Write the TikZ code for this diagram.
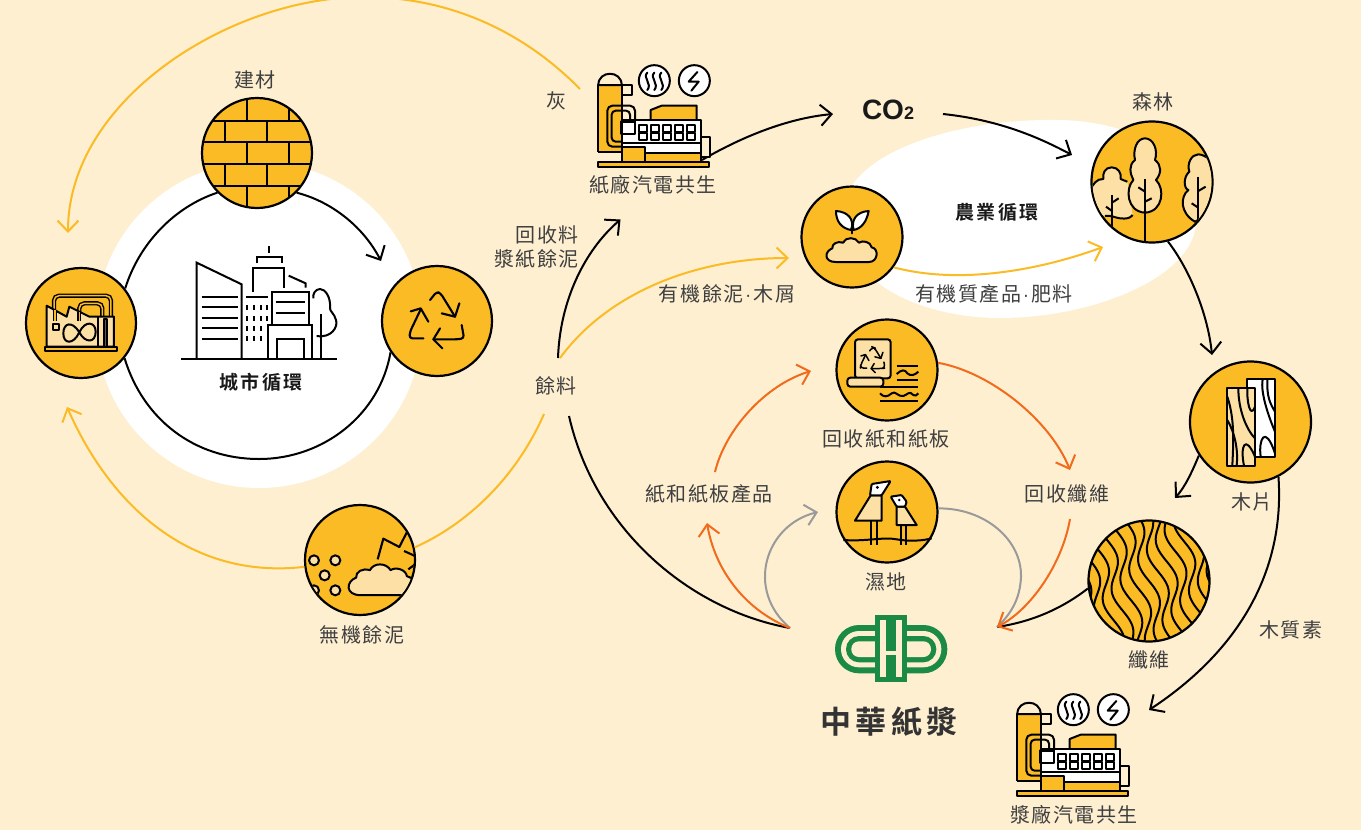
\documentclass[tikz,border=0pt]{standalone}
\usepackage{fontspec}
\usetikzlibrary{arrows.meta,shapes.geometric}
\newfontfamily\cjk[LetterSpace=8]{Noto Sans CJK TC}
\newfontfamily\cjkb[LetterSpace=14]{Noto Sans CJK TC Bold}
\newfontfamily\latinb{Liberation Sans Bold}
\newfontfamily\latinr{Liberation Sans}
\newcommand\midd{\hspace{1.5pt}{\latinr\fontsize{19}{22}\selectfont ·}\hspace{2pt}}
\definecolor{bgc}{HTML}{FEEFD1}
\definecolor{gold}{HTML}{FABB25}
\definecolor{creamy}{HTML}{FCE0A6}
\definecolor{orangeline}{HTML}{F26A1B}
\definecolor{grayline}{HTML}{9A9A9A}
\definecolor{txt}{HTML}{3F3F3F}
\definecolor{logog}{HTML}{1B8A45}
\tikzset{
  disc/.style={circle,draw=black,line width=2.2pt,fill=gold,inner sep=0pt},
  zs/.style={x=0.33333pt,y=-0.33333pt},
  ink/.style={line width=2pt,draw=black,line join=round},
  lab/.style={font=\cjk\fontsize{20}{24}\selectfont,text=txt,inner sep=0pt},
  blab/.style={font=\cjkb\fontsize{19}{24}\selectfont,text=black!90,inner sep=0pt},
  conn/.style={line width=2pt,draw=black},
  ycon/.style={line width=2pt,draw=gold},
  ocon/.style={line width=2pt,draw=orangeline},
  gcon/.style={line width=2pt,draw=grayline},
  arr/.style={-{Straight Barb[length=11pt,width=21pt]}},
}
\newcommand\recyclemark{%
  \draw[rounded corners=3pt] (-20,-50)--(0,-75)--(12,-70)--(55,0);
  \draw (15,-10)--(55,0)--(68,-40);
  \draw[rounded corners=3pt] (75,25)--(82,65)--(60,68)--(-10,68);
  \draw (10,35)--(-10,68)--(17,95);
  \draw[rounded corners=3pt] (-40,65)--(-82,65)--(-80,45)--(-48,-22);
  \draw (-78,-16)--(-48,-25)--(-25,15);
}
\newcommand\cogenicon{%
  \fill[gold] (25,75) rectangle (95,275);
  \draw[ink] (25,275)--(25,75)--(95,75)--(95,305);
  \draw[ink,fill=bgc] (25,75) .. controls (25,30) and (95,30) .. (95,75) -- cycle;
  \draw[ink] (25,275)--(95,275);
  \draw[ink,fill=bgc] (95,75) rectangle (125,105);
  \draw[ink,rounded corners=5pt] (135,180)--(135,137)--(52,137)--(52,260)--(95,260);
  \draw[ink,rounded corners=4pt] (120,180)--(120,152)--(65,152)--(65,245)--(95,245);
  \draw[ink,fill=gold] (182,180)--(182,150)--(215,137)--(320,137)--(320,180)--cycle;
  \draw[ink,fill=white] (95,180) rectangle (333,305);
  \draw[ink,fill=bgc] (333,232) rectangle (360,290);
  \draw[ink,fill=white,line width=2.4pt] (95,185) rectangle (135,222);
  \foreach \i in {0,...,4} {
    \draw[ink,line width=1.7pt] ({148+36*\i},195) rectangle ({170+36*\i},215);
    \draw[ink,line width=1.7pt] ({148+36*\i},218) rectangle ({170+36*\i},240);
  }
  \draw[ink] (95,250)--(333,250);
  \draw[ink,fill=gold] (165,278) rectangle (333,305);
  \draw[ink,fill=gold] (95,262) rectangle (165,305);
  \draw[ink,fill=gold] (25,305) rectangle (358,321);
  \draw[ink,fill=white] (193,62) circle[radius=15.5pt];
  \draw[ink,fill=white] (313,62) circle[radius=15.5pt];
  \foreach \x in {172,193,214} {
    \draw[ink,line cap=round] (\x,38) .. controls (\x-16,52) and (\x+16,72) .. (\x,90);
  }
  \draw[ink,line cap=round] (322,36)--(296,65)--(326,65)--(304,92);
}
\newcommand\cloudmark[1]{%
  \draw[ink,fill=creamy,#1] (-50,36) -- (50,36) .. controls (78,36) and (80,-5) .. (58,-8)
    .. controls (55,-25) and (30,-30) .. (20,-22) .. controls (10,-40) and (-20,-40) .. (-28,-22)
    .. controls (-45,-28) and (-62,-18) .. (-60,-5) .. controls (-85,5) and (-85,36) .. (-50,36) -- cycle;
}
\begin{document}
\begin{tikzpicture}[x=1pt,y=-1pt]
\path[clip] (0,0) rectangle (1361,830);
\useasboundingbox (0,0) rectangle (1361,830);
\fill[bgc] (0,0) rectangle (1361,830);

% white grounds
\node[circle,fill=white,minimum size=326pt,inner sep=0pt] (cityground) at (259,325) {};
\fill[white] (845,200) .. controls (860,150) and (960,118) .. (1060,120) .. controls (1150,122) and (1205,170) .. (1195,230) .. controls (1185,280) and (1090,318) .. (1000,318) .. controls (920,318) and (830,280) .. (845,200) -- cycle;

% discs
\node[disc,minimum size=110pt] (brick) at (257,153) {};
\node[disc,minimum size=110pt] (recycle) at (437,321) {};
\node[disc,minimum size=110pt] (factory) at (81,323) {};
\node[disc,minimum size=110pt] (sludge) at (360,560) {};
\node[disc,minimum size=101pt] (plant) at (852,237) {};
\node[disc,minimum size=121pt] (forest) at (1152,182) {};
\node[disc,minimum size=121pt] (wood) at (1250.5,422) {};
\node[disc,minimum size=121pt] (fiber) at (1149,581) {};
\node[disc,minimum size=101pt] (paper) at (887,370) {};
\node[disc,minimum size=101pt] (wetland) at (887,512) {};

% labels
\node[lab] (lbrick) at (255,80) {建材};
\node[lab] (lash) at (556,101) {灰};
\node[lab,anchor=east] (lrec) at (579,235) {回收料};
\node[lab,anchor=east] (lpulp) at (579,259) {漿紙餘泥};
\node[lab] (lfeed) at (556,386) {餘料};
\node[lab] (lorg) at (727,294) {有機餘泥\midd 木屑};
\node[lab] (lfert) at (994,294) {有機質產品\midd 肥料};
\node[blab] (lfarm) at (997,212) {農業循環};
\node[blab] (lcity) at (261,382) {城市循環};
\node[lab] (lforest) at (1153,102) {森林};
\node[lab] (lpaper) at (886,439) {回收紙和紙板};
\node[lab] (lprod) at (709,494) {紙和紙板產品};
\node[lab] (lfib) at (1067,494) {回收纖維};
\node[lab] (lwet) at (886,582) {濕地};
\node[lab] (lchip) at (1252,502) {木片};
\node[lab] (llig) at (1291,630) {木質素};
\node[lab] (lfiber) at (1149,660) {纖維};
\node[lab] (lsludge) at (362,635) {無機餘泥};
\node[lab] (lcogA) at (653,185) {紙廠汽電共生};
\node[lab] (lcogB) at (1074,815) {漿廠汽電共生};
\node[inner sep=0pt,font=\latinb\fontsize{28}{30}\selectfont,text=black!90] (co2) at (888,110) {CO{\fontsize{18}{18}\selectfont 2}};
\node[inner sep=0pt,font=\cjkb\fontsize{31}{34}\selectfont,text=black!80] (lname) at (889,722) {中華紙漿};

% free connector ends
\coordinate (ashS) at (580,89);
\coordinate (ashM) at (364,-3);
\coordinate (ashT) at (68,233);
\coordinate (cityT) at (381,261);
\coordinate (cityB) at (259,459);
\coordinate (sludgeT) at (67,407);
\coordinate (feedA) at (544,414);
\coordinate (feedB) at (558,358);
\coordinate (feedC) at (560,358);
\coordinate (feedD) at (569,416);
\coordinate (cogT) at (620.5,219.5);
\coordinate (plantT) at (789,258);
\coordinate (cogS) at (702,160);
\coordinate (co2T) at (833,114);
\coordinate (co2S) at (943,114);
\coordinate (forestT) at (1072,155);
\coordinate (forestY) at (1103,247);
\coordinate (woodT) at (1212,355);
\coordinate (fiberT) at (1175,498);
\coordinate (cogBT) at (1149,710);
\coordinate (logoR) at (997,627);
\coordinate (logoL) at (790,628);
\coordinate (fibS) at (1070,519);
\coordinate (fibT) at (1070,470);
\coordinate (prodS) at (715,472);
\coordinate (paperT) at (811,371);
\coordinate (prodT) at (707,523);
\coordinate (wetT) at (818,512);

% connectors
\draw[ycon,arr] (ashS) .. controls (520,28) and (445,-3) .. (ashM) .. controls (230,-3) and (68,100) .. (ashT);
\draw[conn,arr] (brick.-45) .. controls (333,202) and (364,228) .. (cityT);
\draw[conn] (recycle.214) .. controls (380,414) and (324,459) .. (cityB) .. controls (194,459) and (143,419) .. (factory.-39);
\draw[conn] (factory.38) .. controls (139,244) and (174,207) .. (brick.-135);
\draw[ycon,arr] (sludge.187) .. controls (190,580) and (110,505) .. (sludgeT);
\draw[ycon] (feedA) .. controls (515,480) and (465,525) .. (sludge.13);
\draw[conn,arr] (feedB) .. controls (560,300) and (585,250) .. (cogT);
\draw[ycon,arr] (feedC) .. controls (610,290) and (700,258) .. (plantT);
\draw[conn,arr] (cogS) .. controls (745,135) and (790,118) .. (co2T);
\draw[conn,arr] (co2S) .. controls (1000,120) and (1040,138) .. (forestT);
\draw[ycon,arr] (plant.-36) .. controls (960,285) and (1040,270) .. (forestY);
\draw[conn,arr] (forest.-75) .. controls (1190,270) and (1208,315) .. (woodT);
\draw[conn,arr] (wood.-147) .. controls (1192,472) and (1185,487) .. (fiberT);
\draw[conn,arr] (wood.-63) .. controls (1285,570) and (1240,650) .. (cogBT);
\draw[conn] (feedD) .. controls (595,530) and (690,610) .. (logoL);
\draw[conn] (fiber.187) .. controls (1060,610) and (1030,622) .. (logoR);
\draw[gcon] (wetland.4) .. controls (985,508) and (1022,540) .. (1021,577) .. controls (1020,600) and (1010,615) .. (logoR);
\draw[gcon,arr] (logoL) .. controls (745,590) and (765,525) .. (wetT);
\draw[ocon,arr] (fibS) .. controls (1062,565) and (1030,610) .. (logoR);
\draw[ocon,arr] (paper.8) .. controls (990,372) and (1050,420) .. (fibT);
\draw[ocon,arr] (prodS) .. controls (725,430) and (765,385) .. (paperT);
\draw[ocon,arr] (logoL) .. controls (745,610) and (715,570) .. (prodT);

% city icon
\begin{scope}[shift={(175,240)},zs,line cap=butt]
  \tikzset{every path/.style={line width=2pt,draw=black}}
  \draw (18,358)--(487,358);
  \draw (65,358)--(65,68)--(200,133)--(200,358);
  \foreach \y in {171,202,233,265,296} \draw (80,\y)--(188,\y);
  \draw (213,171)--(280,171);
  \foreach \x in {215,237,257,277} \foreach \y in {195,228} \draw (\x,\y)--(\x,\y+15);
  \foreach \x in {215,237,257} \foreach \y in {258,288} \draw (\x,\y)--(\x,\y+15);
  \draw (233,157)--(233,84)--(328,84)--(328,145);
  \draw (247,70)--(247,52)--(320,52)--(320,70);
  \draw (283,18)--(283,40);
  \draw (341,107)--(392,130)--(392,143);
  \draw (292,255)--(292,157)--(401,157)--(401,255);
  \draw (302,187)--(391,187);
  \draw (302,218)--(391,218);
  \draw (280,358)--(280,255)--(412,255)--(412,358);
  \draw (306,358)--(306,297)--(386,297)--(386,358);
  \draw (437,358)--(437,222);
  \draw (425,288) .. controls (470,295) and (490,260) .. (483,240) .. controls (478,220) and (465,215) .. (465,205) .. controls (468,170) and (450,147) .. (435,147) .. controls (420,147) and (412,165) .. (415,175);
\end{scope}

% brick icon
\begin{scope}
  \clip (brick) circle[radius=54pt];
  \begin{scope}[shift={(0,60)},zs]
    \tikzset{every path/.style={line width=2pt,draw=black}}
    \foreach \y in {183,247,312,377} \draw (600,\y)--(940,\y);
    \foreach \x/\a/\b in {740/110/183,867/110/183,675/183/247,802/183/247,740/247/312,868/247/312,675/312/377,802/312/377,740/377/445,868/377/445}
      \draw (\x,\a)--(\x,\b);
  \end{scope}
\end{scope}

% recycle icon
\begin{scope}[shift={(436.7,316.7)},zs,line width=2.1pt,line cap=round,line join=round]
  \recyclemark
\end{scope}

% factory icon
\begin{scope}[shift={(30,275)},zs]
  \draw[line width=1.4pt,double=gold,double distance=1.5pt,rounded corners=5pt] (72,137)--(72,62)--(243,62)--(243,125);
  \draw[line width=1.4pt,double=gold,double distance=1.5pt,rounded corners=5pt] (148,137)--(148,85)--(217,85)--(217,125);
  \draw[ink,fill=creamy] (50,215)--(50,92)--(110,125)--(118,95)--(178,125)--(252,125)--(252,215)--cycle;
  \draw[line width=1.4pt,double=gold,double distance=1.5pt] (75,105)--(75,137);
  \draw[line width=1.4pt,double=gold,double distance=1.5pt] (148,110)--(148,137);
  \draw[ink] (70,148) rectangle (88,165);
  \draw[ink] (148,172) .. controls (125,135) and (100,145) .. (100,175) .. controls (100,208) and (130,210) .. (148,172) .. controls (165,135) and (197,140) .. (197,170) .. controls (197,205) and (165,205) .. (148,172);
  \draw[ink,fill=black!65] (222,132) rectangle (232,215);
  \draw[ink] (205,125)--(205,215);
  \draw[ink,fill=gold] (45,216) rectangle (262,228);
\end{scope}

% sludge icon
\begin{scope}
  \clip (sludge) circle[radius=54pt];
  \begin{scope}[shift={(290,491)},zs]
    \foreach \x/\y in {72/208,136/208,104/253,136/298,72/298}
      \draw[ink,fill=creamy] (\x,\y) circle[radius=5pt];
    \draw[ink,line width=2.1pt] (263,205)--(280,143)--(328,168)--(350,125);
    \draw[ink,line width=2.1pt] (342,180)--(380,197);
    \draw[ink,line width=2.1pt] (355,235)--(378,218);
    \begin{scope}[shift={(276,266)},x=0.43pt,y=-0.43pt]
      \cloudmark{}
    \end{scope}
  \end{scope}
\end{scope}

% plant icon
\begin{scope}[shift={(580,50)},zs]
  \draw[ink,line cap=round] (817,520)--(817,550);
  \draw[ink,fill=white] (768,483) .. controls (805,485) and (825,510) .. (813,540) .. controls (785,535) and (768,515) .. (768,483) -- cycle;
  \draw[ink,fill=white] (866,483) .. controls (860,515) and (845,535) .. (821,540) .. controls (812,510) and (830,485) .. (866,483) -- cycle;
  \begin{scope}[shift={(817,600)}]
    \cloudmark{}
  \end{scope}
\end{scope}

% forest icon
\begin{scope}
  \clip (forest) circle[radius=59.5pt];
  \begin{scope}[shift={(1070,110)},zs]
    \fill[creamy] (125,172) .. controls (105,172) and (97,190) .. (100,207) .. controls (80,205) and (68,225) .. (60,240) -- (60,300) -- (105,318) .. controls (125,315) and (130,322) .. (150,325) .. controls (170,327) and (180,325) .. (188,315) -- (172,215) .. controls (165,210) and (158,212) .. (152,207) .. controls (155,190) and (145,172) .. (125,172);
    \draw[ink] (105,318) .. controls (125,315) and (130,322) .. (150,325) .. controls (170,327) and (180,325) .. (188,315);
    \draw[ink] (172,215) .. controls (165,210) and (158,212) .. (152,207) .. controls (155,190) and (145,172) .. (125,172) .. controls (105,172) and (97,190) .. (100,207) .. controls (80,205) and (68,225) .. (60,240);
    \draw[ink] (126,255)--(126,355);
    \draw[ink] (108,290)--(126,303);
    \draw[ink] (146,265)--(126,278);
    \draw[ink,fill=creamy] (225,85) .. controls (200,85) and (188,120) .. (195,150) .. controls (175,165) and (180,190) .. (190,210) .. controls (165,235) and (170,305) .. (225,308) .. controls (280,305) and (285,235) .. (258,210) .. controls (275,190) and (275,165) .. (255,150) .. controls (265,120) and (250,85) .. (225,85);
    \draw[ink] (225,208)--(225,395);
    \draw[ink] (205,232)--(225,245);
    \draw[ink] (245,265)--(225,275);
    \draw[ink,fill=creamy] (385,133) .. controls (365,133) and (350,160) .. (358,185) .. controls (340,200) and (340,235) .. (355,240) .. controls (330,260) and (330,310) .. (375,335) -- (440,300) -- (440,180) -- (420,150) .. controls (410,140) and (395,133) .. (385,133);
    \draw[ink] (385,200)--(385,345);
    \draw[ink] (407,230)--(385,243);
    \draw[ink] (365,280)--(385,293);
  \end{scope}
\end{scope}

% wood icon
\begin{scope}[shift={(1070,110)},zs]
  \draw[ink,fill=white] (530,808) rectangle (615,1040);
  \draw[ink] (578,808) .. controls (570,850) and (600,930) .. (615,965);
  \draw[ink] (592,808) .. controls (590,860) and (600,880) .. (615,905);
  \draw[ink] (572,1040) .. controls (565,990) and (585,940) .. (615,1030);
  \draw[ink,fill=creamy] (470,835) rectangle (555,1067);
  \draw[ink] (472,860) .. controls (495,930) and (490,1000) .. (487,1067);
  \draw[ink] (505,835) .. controls (505,900) and (530,960) .. (555,985);
  \draw[ink] (532,835) .. controls (530,870) and (540,930) .. (555,890);
  \draw[ink] (522,1067) .. controls (510,1010) and (525,970) .. (555,1040);
  \draw[ink] (500,1067) .. controls (505,1020) and (495,970) .. (472,930);
\end{scope}

% fibre icon
\begin{scope}
  \clip (fiber) circle[radius=60pt];
  \begin{scope}[shift={(1149,581)},zs]
    \foreach \i in {-9,...,9} {
      \draw[ink,smooth,domain=-190:190,samples=36,variable=\t]
        plot ({\i*33+0.22*\t+20*sin(\t*1.7+\i*50)},\t);
    }
  \end{scope}
\end{scope}

% recycled paper icon
\begin{scope}[shift={(800,310)},zs]
  \draw[ink,fill=creamy,rounded corners=3pt] (165,205)--(165,88)--(272,88)--(272,205)--cycle;
  \draw[ink,fill=creamy,rounded corners=3pt] (142,203) rectangle (250,230);
  \foreach \y in {168,210,232,272} \draw[ink] (290,\y)--(355,\y);
  \draw[ink] (240,272)--(290,272);
  \draw[ink] (240,232)--(290,232);
  \draw[ink] (290,192) .. controls (305,178) and (315,178) .. (322,190) .. controls (332,200) and (345,195) .. (355,185);
  \draw[ink] (240,250) .. controls (250,262) and (262,262) .. (275,250) .. controls (285,240) and (295,262) .. (310,258) .. controls (322,255) and (328,240) .. (340,255) .. controls (345,258) and (350,258) .. (355,250);
  \begin{scope}[shift={(218,145)},x=0.15pt,y=-0.15pt,line width=1.5pt,line cap=round,line join=round]
    \recyclemark
  \end{scope}
\end{scope}

% wetland icon
\begin{scope}[shift={(800,310)},zs]
  \draw[ink] (130,690) .. controls (200,695) and (250,680) .. (290,688) .. controls (330,695) and (370,692) .. (395,685);
  \draw[ink] (212,632)--(212,705);
  \draw[ink] (232,632)--(232,705);
  \draw[ink] (302,645)--(302,705);
  \draw[ink] (318,645)--(318,705);
  \draw[ink,fill=creamy] (165,632)--(212,556)--(245,556)--(245,632)--cycle;
  \draw[ink,fill=white,rounded corners=1pt] (210,556)--(215,522)--(272,513)--(245,556)--cycle;
  \fill[black] (232,532) circle[radius=1.6pt];
  \draw[ink,fill=creamy] (290,590)--(315,590)--(350,645)--(290,645)--cycle;
  \draw[ink,fill=white,rounded corners=1pt] (272,560)--(305,555)--(320,575)--(315,590)--(290,590)--cycle;
  \fill[black] (298,570) circle[radius=1.4pt];
\end{scope}

% cogeneration icons
\begin{scope}[shift={(590,60)},zs]
  \cogenicon
\end{scope}
\begin{scope}[shift={(1009,689)},zs]
  \cogenicon
\end{scope}

% logo
\begin{scope}[shift={(830,610)},zs]
  \fill[logog,rounded corners=24pt] (15,45) rectangle (352,190);
  \fill[bgc,rounded corners=18pt] (33,63) rectangle (334,172);
  \fill[logog,rounded corners=13pt] (48,78) rectangle (319,157);
  \fill[bgc,rounded corners=7.5pt] (64,94) rectangle (303,141);
  \fill[logog] (135,15) rectangle (232,215);
  \fill[bgc] (150,30) rectangle (168,200);
  \fill[bgc] (198,30) rectangle (217,200);
  \fill[bgc] (168,122) rectangle (198,134);
\end{scope}
\end{tikzpicture}
\end{document}
